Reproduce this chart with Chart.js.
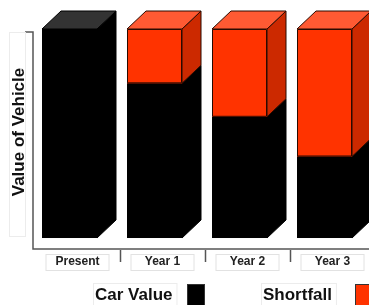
<!DOCTYPE html>
<html>
<head>
<meta charset="utf-8">
<script src="https://cdn.jsdelivr.net/npm/chart.js@4"></script>
<style>
    html, body { margin: 0; padding: 0; background: #fff; }
    #wrap { width: 369px; height: 305px; overflow: hidden; position: relative; }
    canvas { display: block; }
</style>
</head>
<body>
<div id="wrap"><canvas id="chart" width="400" height="305"></canvas></div>
<script>
// Vehicle value vs shortfall - 3D stacked columns

const categories = ['Present', 'Year 1', 'Year 2', 'Year 3'];
const carValue = [100, 74, 58, 39];
const shortfall = [0, 26, 42, 61];
const seriesNames = ['Car Value', 'Shortfall'];
const axisTitle = 'Value of Vehicle';

// face colours per series: front, side, top, edge
const faces = [
    { front: '#000000', side: '#000000', top: '#333333', edge: '#000000' },
    { front: '#FF3300', side: '#CC2900', top: '#FF5A33', edge: '#2a0a00' }
];

const FONT = '"Liberation Sans", Arial, sans-serif';
const DX = 19;      // 3D depth, x
const DY = 18;      // 3D depth, y
const FRONT_W = 55; // width of front face

function drawBox(ctx, elem, f) {
    const left = elem.x - 35.5;
    const right = left + FRONT_W;
    const top = Math.min(elem.y, elem.base);
    const bottom = Math.max(elem.y, elem.base);
    if (bottom - top < 0.5) return;

    ctx.save();
    ctx.lineWidth = 1;
    ctx.strokeStyle = f.edge;
    ctx.lineJoin = 'round';

    // side face
    ctx.beginPath();
    ctx.moveTo(right, top);
    ctx.lineTo(right + DX, top - DY);
    ctx.lineTo(right + DX, bottom - DY);
    ctx.lineTo(right, bottom);
    ctx.closePath();
    ctx.fillStyle = f.side;
    ctx.fill();
    ctx.stroke();

    // top face
    ctx.beginPath();
    ctx.moveTo(left, top);
    ctx.lineTo(left + DX, top - DY);
    ctx.lineTo(right + DX, top - DY);
    ctx.lineTo(right, top);
    ctx.closePath();
    ctx.fillStyle = f.top;
    ctx.fill();
    ctx.stroke();

    // front face
    ctx.fillStyle = f.front;
    ctx.fillRect(left, top, FRONT_W, bottom - top);
    ctx.strokeRect(left + 0.5, top + 0.5, FRONT_W - 1, bottom - top - 1);
    ctx.restore();
}

const boxes3d = {
    id: 'boxes3d',
    afterDatasetsDraw(chart) {
        const ctx = chart.ctx;
        const n = categories.length;
        for (let j = 0; j < n; j++) {
            chart.data.datasets.forEach((ds, i) => {
                const elem = chart.getDatasetMeta(i).data[j];
                if (ds.data[j] > 0) drawBox(ctx, elem, faces[i]);
            });
        }
    }
};

// axis lines, tick marks, boxed labels, rotated title, legend
const decorations = {
    id: 'decorations',
    afterDraw(chart) {
        const ctx = chart.ctx;
        const area = chart.chartArea;
        const xs = chart.scales.x;
        const axisX = area.left - 2;
        const axisY = area.bottom;

        ctx.save();
        ctx.strokeStyle = '#555';
        ctx.lineWidth = 1.5;
        ctx.beginPath();
        ctx.moveTo(axisX - 8, 32);
        ctx.lineTo(axisX, 32);
        ctx.lineTo(axisX, axisY);
        ctx.lineTo(chart.width, axisY);
        ctx.stroke();

        // ticks between categories
        const step = xs.getPixelForValue(1) - xs.getPixelForValue(0);
        ctx.beginPath();
        for (let j = 0; j < categories.length; j++) {
            const tx = Math.round(xs.getPixelForValue(j) + step / 2) + 0.5;
            ctx.moveTo(tx, axisY + 1);
            ctx.lineTo(tx, axisY + 13);
        }
        ctx.stroke();

        // category labels in white boxes
        ctx.font = 'bold 12px ' + FONT;
        ctx.textAlign = 'center';
        ctx.textBaseline = 'middle';
        categories.forEach((label, j) => {
            const cx = xs.getPixelForValue(j);
            ctx.fillStyle = '#fff';
            ctx.fillRect(cx - 32, 254, 64, 17);
            ctx.strokeStyle = '#e2e2e2';
            ctx.lineWidth = 1;
            ctx.strokeRect(cx - 31.5, 254.5, 63, 16);
            ctx.fillStyle = '#222';
            ctx.fillText(label, cx, 262);
        });

        // y axis title
        ctx.strokeStyle = '#ececec';
        ctx.strokeRect(9.5, 32.5, 16, 204);
        ctx.translate(19, 132);
        ctx.rotate(-Math.PI / 2);
        ctx.font = 'bold 17px ' + FONT;
        ctx.fillStyle = '#111';
        ctx.fillText(axisTitle, 0, 0);
        ctx.setTransform(1, 0, 0, 1, 0, 0);

        // legend: text then swatch
        const legendX = [95, 263];
        const swatchX = [187, 355];
        ctx.textAlign = 'left';
        ctx.textBaseline = 'alphabetic';
        seriesNames.forEach((name, i) => {
            const w = ctx.measureText(name).width;
            ctx.strokeStyle = '#ececec';
            ctx.strokeRect(legendX[i] - 1.5, 283.5, w + 6, 30);
            ctx.fillStyle = '#111';
            ctx.fillText(name, legendX[i], 300);
            ctx.fillStyle = faces[i].front;
            ctx.fillRect(swatchX[i], 284, 18, 24);
            ctx.strokeStyle = '#333';
            ctx.strokeRect(swatchX[i] + 0.5, 284.5, 17, 23);
        });
        ctx.restore();
    }
};

new Chart(document.getElementById('chart'), {
    type: 'bar',
    data: {
        labels: categories,
        datasets: [
            { label: seriesNames[0], data: carValue, backgroundColor: 'rgba(0,0,0,0)', borderWidth: 0 },
            { label: seriesNames[1], data: shortfall, backgroundColor: 'rgba(0,0,0,0)', borderWidth: 0 }
        ]
    },
    options: {
        responsive: false,
        animation: false,
        devicePixelRatio: 1,
        layout: { padding: { left: 35, right: 25, top: 29, bottom: 56 } },
        scales: {
            x: { display: false, stacked: true },
            y: { display: false, stacked: true, min: -5.26, max: 100 }
        },
        plugins: {
            legend: { display: false },
            tooltip: { enabled: false }
        }
    },
    plugins: [boxes3d, decorations]
});
</script>
</body>
</html>
